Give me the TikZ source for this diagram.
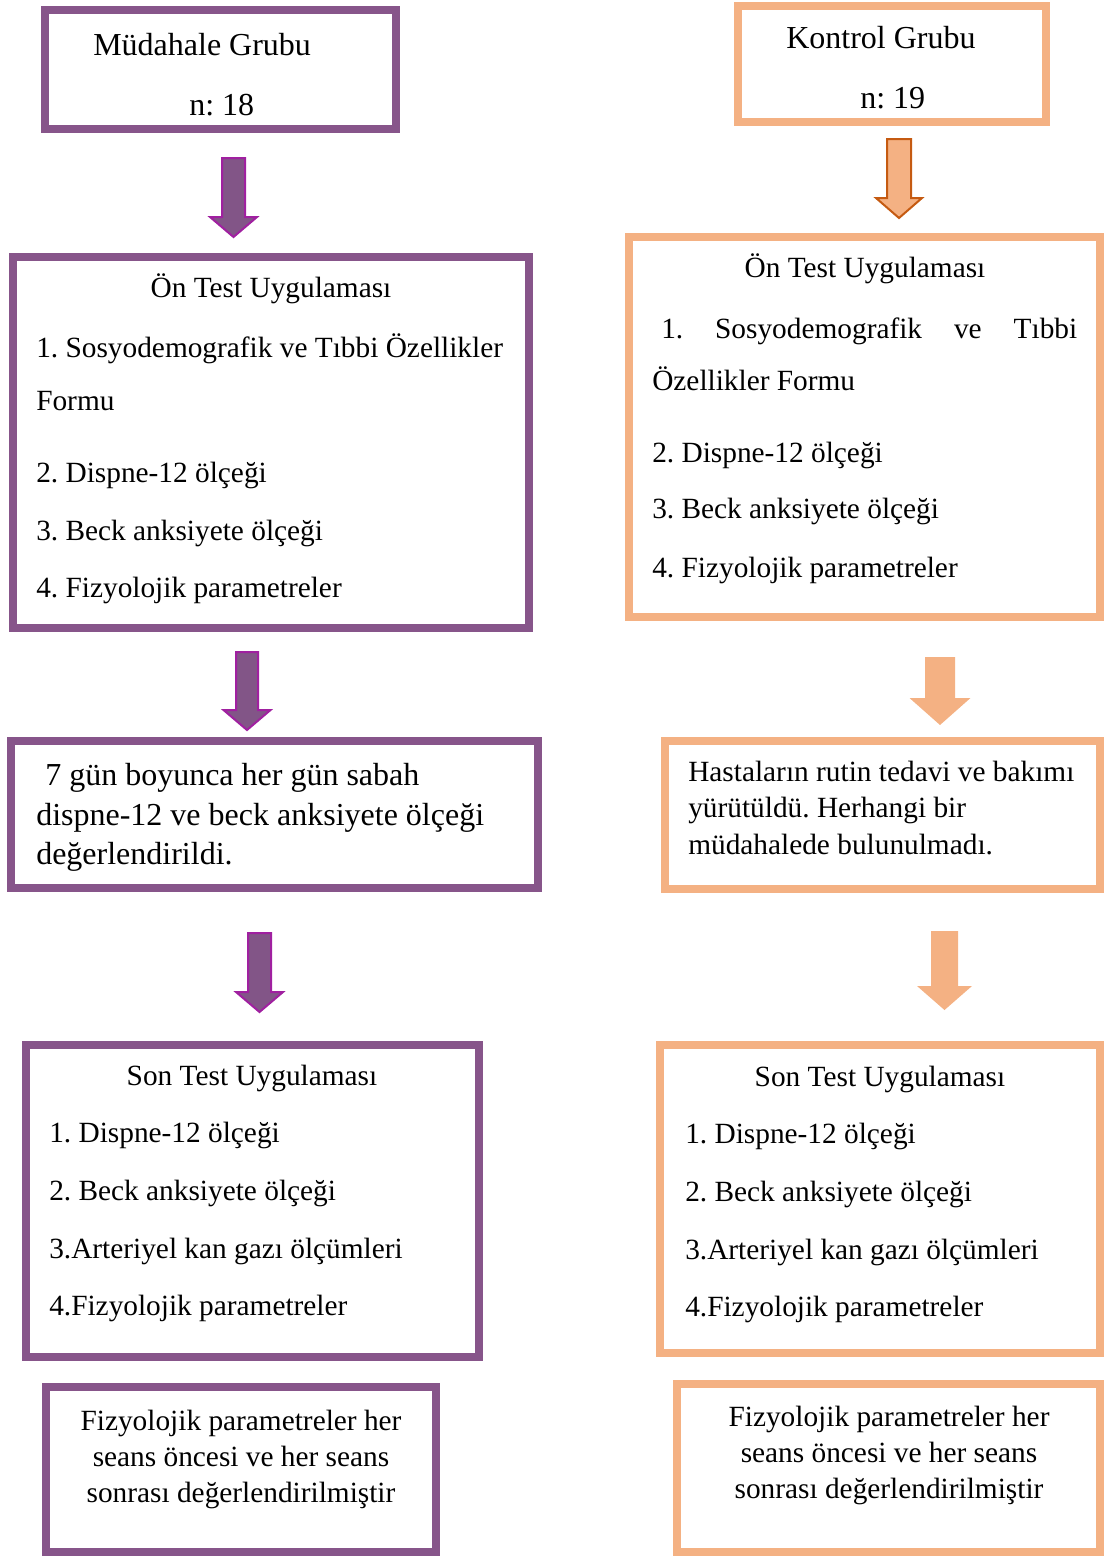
\documentclass[tikz,border=0pt]{standalone}
\usepackage{fontspec}
\setmainfont{Liberation Serif}
\usetikzlibrary{fit}
\newlength\pxu \setlength\pxu{0.75pt}
\definecolor{pborder}{HTML}{87558A}
\definecolor{pfill}{HTML}{825587}
\definecolor{pline}{HTML}{A020A0}
\definecolor{oborder}{HTML}{F4B183}
\definecolor{oline}{HTML}{C55A11}
\tikzset{
 box/.style={draw, line width=6pt, inner sep=0pt},
 pbox/.style={box, draw=pborder},
 obox/.style={box, draw=oborder},
 txt/.style={anchor=base west, inner sep=0pt, font=\fontsize{22}{26}\selectfont},
 ctxt/.style={txt, anchor=base},
 bigtxt/.style={txt, font=\fontsize{24}{28}\selectfont},
 parrow/.style={fill=pfill, draw=pline, line width=1.5pt, line join=miter},
 oarrow/.style={fill=oborder, draw=oline, line width=1.5pt, line join=miter},
 oarrowflat/.style={fill=oborder},
}
\newcommand\blockarrow[7]{%
 \path[#1] ({#2-#3},#5) -- ({#2+#3},#5) -- ({#2+#3},#6) -- ({#2+#4},#6) -- (#2,#7) -- ({#2-#4},#6) -- ({#2-#3},#6) -- cycle;}
\begin{document}
\frenchspacing
\begin{tikzpicture}[x=0.75pt, y=-0.75pt]
\useasboundingbox (0,0) rectangle (1105,1556);
% boxes
\node[pbox, fit={(45,10) (396,129)}] (g1) {};
\node[obox, fit={(738,6) (1046,122)}] (k1) {};
\node[pbox, fit={(13,257) (529,628)}] (g2) {};
\node[obox, fit={(629,237) (1100,617)}] (k2) {};
\node[pbox, fit={(11,741) (538,888)}] (g3) {};
\node[obox, fit={(665,741) (1100,889)}] (k3) {};
\node[pbox, fit={(26,1045) (479,1357)}] (g4) {};
\node[obox, fit={(660,1045) (1100,1353)}] (k4) {};
\node[pbox, fit={(46,1387) (436,1552)}] (g5) {};
\node[obox, fit={(677,1384) (1100,1552)}] (k5) {};
% arrows
\blockarrow{parrow}{233.5}{11.5}{23.5}{158}{217}{237}
\blockarrow{parrow}{247}{11}{23.5}{652}{710}{730}
\blockarrow{parrow}{259.5}{11.5}{23.5}{933}{992}{1012}
\blockarrow{oarrow}{899}{12}{23}{139}{198}{218}
\blockarrow{oarrowflat}{940}{15}{30.5}{657}{698}{725}
\blockarrow{oarrowflat}{944.5}{13.5}{27.5}{931}{986}{1010}
% texts group 1
\node[bigtxt] (g1a) at (93,55) {Müdahale Grubu};
\node[bigtxt] (g1b) at (189,115) {n: 18};
\node[bigtxt] (k1a) at (786,48) {Kontrol Grubu};
\node[bigtxt] (k1b) at (860,108) {n: 19};
% g2
\node[ctxt] (g2t) at (271,297) {Ön Test Uygulaması};
\node[txt] (g2a) at (36,357) {1. Sosyodemografik ve Tıbbi Özellikler};
\node[txt] (g2b) at (36,410) {Formu};
\node[txt] (g2c) at (36,482) {2. Dispne-12 ölçeği};
\node[txt] (g2d) at (36,540) {3. Beck anksiyete ölçeği};
\node[txt] (g2e) at (36,597) {4. Fizyolojik parametreler};
% k2
\node[ctxt] (k2t) at (865,277) {Ön Test Uygulaması};
\node[txt] (k2a) at (661,338) {\makebox[416\pxu][s]{1. Sosyodemografik ve Tıbbi}};
\node[txt] (k2b) at (652,390) {Özellikler Formu};
\node[txt] (k2c) at (652,462) {2. Dispne-12 ölçeği};
\node[txt] (k2d) at (652,518) {3. Beck anksiyete ölçeği};
\node[txt] (k2e) at (652,577) {4. Fizyolojik parametreler};
% g3
\node[bigtxt] (g3a) at (45,785) {7 gün boyunca her gün sabah};
\node[bigtxt] (g3b) at (36,825) {dispne-12 ve beck anksiyete ölçeği};
\node[bigtxt] (g3c) at (36,864) {değerlendirildi.};
% k3
\node[txt] (k3a) at (688,781) {Hastaların rutin tedavi ve bakımı};
\node[txt] (k3b) at (688,817) {yürütüldü. Herhangi bir};
\node[txt] (k3c) at (688,854) {müdahalede bulunulmadı.};
% g4
\node[ctxt] (g4t) at (252,1085) {Son Test Uygulaması};
\node[txt] (g4a) at (49,1142) {1. Dispne-12 ölçeği};
\node[txt] (g4b) at (49,1200) {2. Beck anksiyete ölçeği};
\node[txt] (g4c) at (49,1258) {3.Arteriyel kan gazı ölçümleri};
\node[txt] (g4d) at (49,1315) {4.Fizyolojik parametreler};
% k4
\node[ctxt] (k4t) at (880,1086) {Son Test Uygulaması};
\node[txt] (k4a) at (685,1143) {1. Dispne-12 ölçeği};
\node[txt] (k4b) at (685,1201) {2. Beck anksiyete ölçeği};
\node[txt] (k4c) at (685,1259) {3.Arteriyel kan gazı ölçümleri};
\node[txt] (k4d) at (685,1316) {4.Fizyolojik parametreler};
% g5
\node[ctxt] (g5a) at (241,1430) {Fizyolojik parametreler her};
\node[ctxt] (g5b) at (241,1466) {seans öncesi ve her seans};
\node[ctxt] (g5c) at (241,1502) {sonrası değerlendirilmiştir};
% k5
\node[ctxt] (k5a) at (889,1426) {Fizyolojik parametreler her};
\node[ctxt] (k5b) at (889,1462) {seans öncesi ve her seans};
\node[ctxt] (k5c) at (889,1498) {sonrası değerlendirilmiştir};
\end{tikzpicture}
\end{document}
